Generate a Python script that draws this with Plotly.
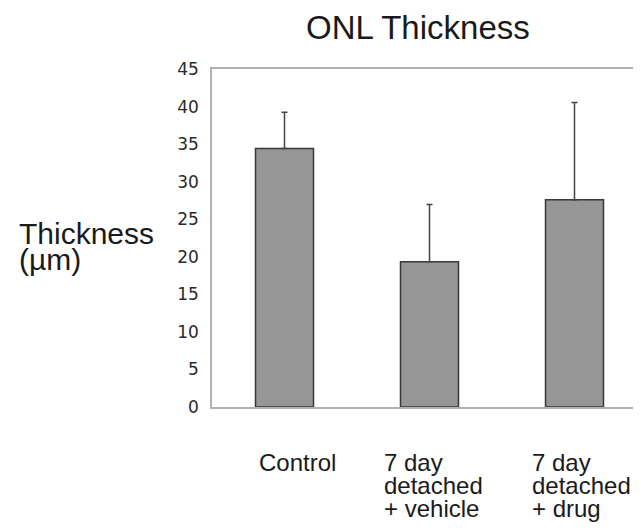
import plotly.graph_objects as go

categories = ["Control", "7 day\ndetached\n+ vehicle", "7 day\ndetached\n+ drug"]
means = [34.4, 19.35, 27.6]
sd_plus = [4.85, 7.6, 12.95]
y_ticks = [0, 5, 10, 15, 20, 25, 30, 35, 40, 45]
title_text = "ONL Thickness"
y_label_lines = ["Thickness", "(µm)"]

# page body has an 8px margin, so the figure is sized/offset to compensate
W, H = 633, 520
ML, MT, MB, MR = 204, 61, 121, 0
plot_w = W - ML - MR
plot_h = H - MT - MB
label_xshift = [-28, -48, -45]

fig = go.Figure()
fig.add_trace(go.Bar(
    x=list(range(len(categories))),
    y=means,
    width=0.4,
    marker=dict(color="#969696", line=dict(color="#383838", width=1.5)),
    error_y=dict(type="data", array=sd_plus, arrayminus=[0] * len(means),
                 symmetric=False, color="#444444", thickness=1.5, width=3),
    showlegend=False,
))

span = plot_w / 145.0
fig.update_xaxes(range=[-0.5, -0.5 + span], showticklabels=False, showgrid=False,
                 zeroline=False, showline=True, linecolor="#b0b0b0", linewidth=1.5,
                 mirror=True, ticks="")
fig.update_yaxes(range=[0, 45], tickvals=y_ticks, showgrid=False, zeroline=False,
                 showline=True, linecolor="#b0b0b0", linewidth=1.5, ticks="",
                 ticklabelstandoff=8,
                 tickfont=dict(family="DejaVu Sans", size=17, color="#2a2a2a"))

ann = []
font_cat = dict(family="Liberation Sans, Arial", size=24, color="#1a1a1a")
for i, lab in enumerate(categories):
    for j, line in enumerate(lab.split("\n")):
        ann.append(dict(x=i, xref="x", y=0, yref="paper", text=line, showarrow=False,
                        xanchor="left", yanchor="middle", xshift=label_xshift[i],
                        yshift=-55 - 23 * j, font=font_cat))
for j, line in enumerate(y_label_lines):
    ann.append(dict(x=(9 - ML) / plot_w, xref="paper",
                    y=(MT + plot_h - 225.5 - 25.5 * j) / plot_h,
                    yref="paper", text=line, showarrow=False, xanchor="left",
                    yanchor="middle",
                    font=dict(family="Liberation Sans, Arial", size=30, color="#1a1a1a")))
ann.append(dict(x=(410 - ML) / plot_w, xref="paper", y=(MT + plot_h - 19) / plot_h,
                yref="paper", text=title_text, showarrow=False, xanchor="center",
                yanchor="middle",
                font=dict(family="Liberation Sans, Arial", size=33, color="#1a1a1a")))

fig.update_layout(width=W, height=H, margin=dict(l=ML, r=MR, t=MT, b=MB, pad=0),
                  paper_bgcolor="white", plot_bgcolor="white", annotations=ann)
fig.write_html("out.html")
